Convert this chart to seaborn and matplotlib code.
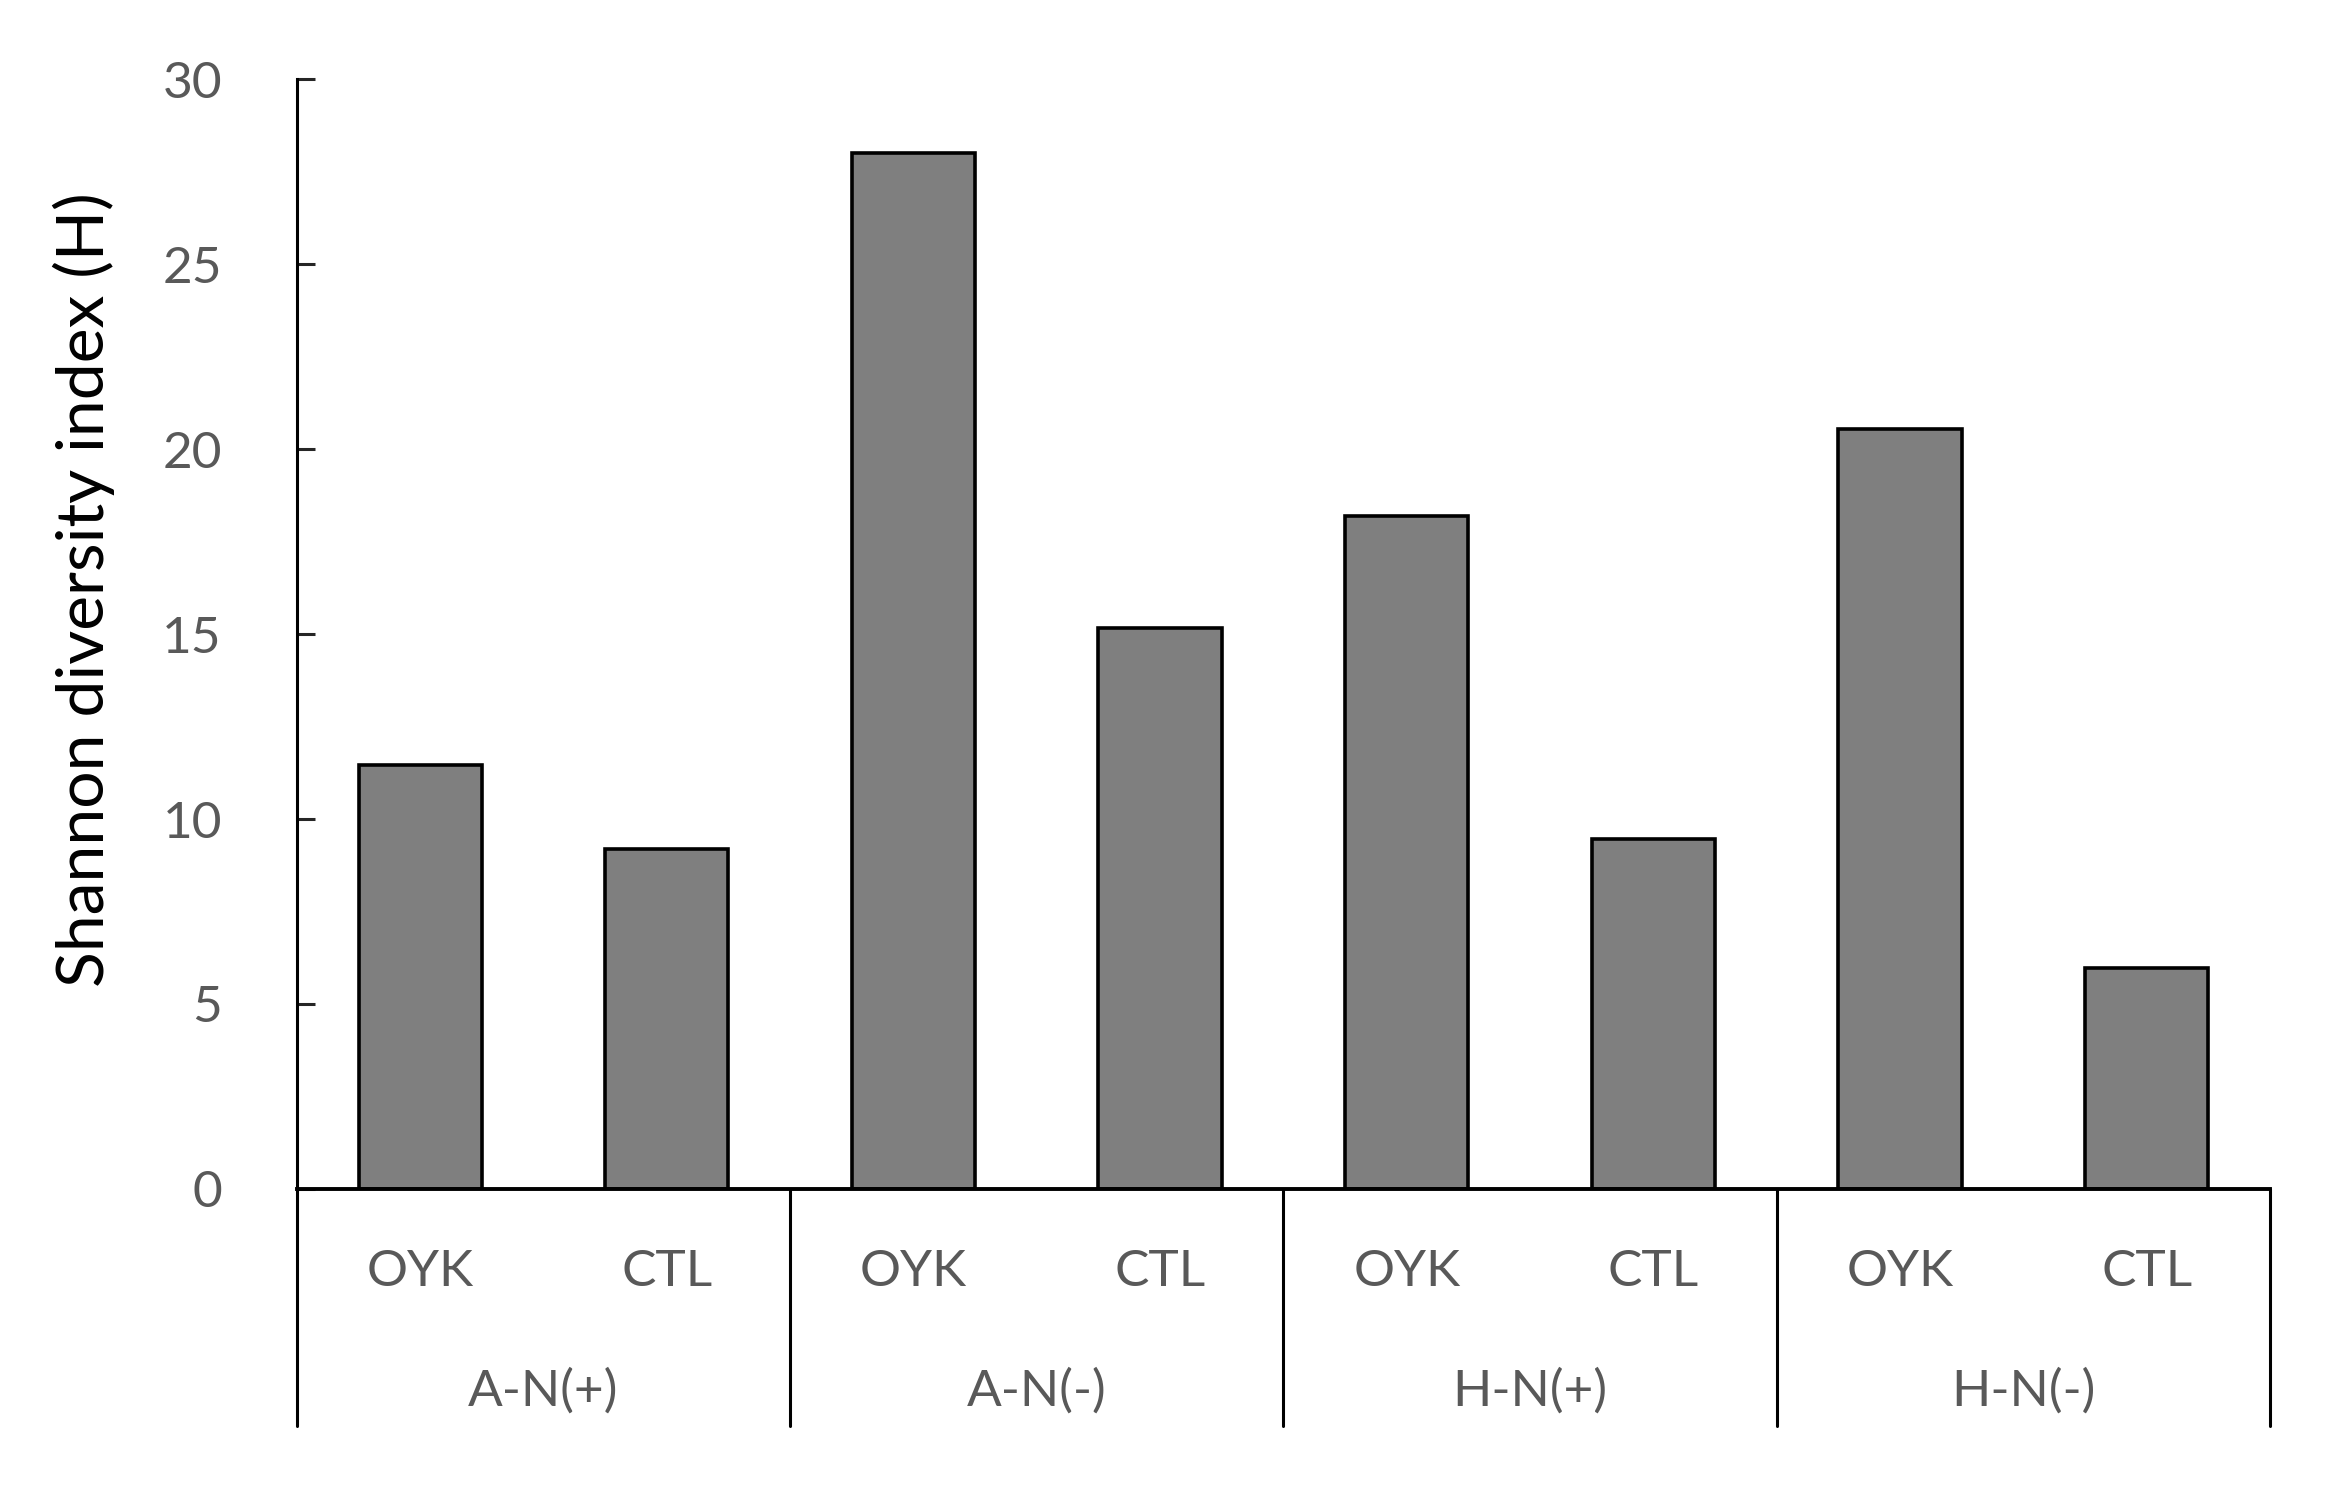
import numpy as np
import pandas as pd
import matplotlib
matplotlib.use("Agg")
import matplotlib.pyplot as plt
import matplotlib.transforms as mtransforms
import seaborn as sns

# data
groups = ["A-N(+)", "A-N(-)", "H-N(+)", "H-N(-)"]
treatments = ["OYK", "CTL"]
oyk_values = [11.45, 28.0, 18.2, 20.55]
ctl_values = [9.2, 15.15, 9.45, 5.97]
y_ticks = [0, 5, 10, 15, 20, 25, 30]

rows = []
for g, o, c in zip(groups, oyk_values, ctl_values):
    rows.append({"group": g, "treatment": "OYK", "value": o})
    rows.append({"group": g, "treatment": "CTL", "value": c})
df = pd.DataFrame(rows)
df["key"] = df["group"] + "|" + df["treatment"]
order = list(df["key"])

sns.set_style("white")
plt.rcParams["font.family"] = ["Lato", "DejaVu Sans"]

fig = plt.figure(figsize=(23.25, 14.92), dpi=100)
ax = fig.add_axes([0.1277, 0.2031, 0.8486, 0.7439])

sns.barplot(
    data=df, x="key", y="value", order=order, color="#7f7f7f",
    saturation=1, width=0.5, edgecolor="black", linewidth=2.6, ax=ax,
)

ax.set_xlim(-0.5, len(order) - 0.5)
ax.set_ylim(0, 30)
ax.set_yticks(y_ticks)
ax.tick_params(axis="y", left=True, direction="in", length=13, width=2.2,
               labelsize=37, labelcolor="#595959", pad=54)
ax.set_xticks([])
ax.set_xlabel("")

for s in ["top", "right"]:
    ax.spines[s].set_visible(False)
ax.spines["left"].set_linewidth(2.2)
ax.spines["bottom"].set_linewidth(2.8)
ax.spines["left"].set_color("black")
ax.spines["bottom"].set_color("black")

ax.set_ylabel("Shannon diversity index (H)", fontsize=47.5, color="black")
ax.yaxis.label.set_verticalalignment("center")
ax.yaxis.set_label_coords(-0.108, 0.54)

# two-level category axis
trans = mtransforms.blended_transform_factory(ax.transData, ax.transAxes)
for i, key in enumerate(order):
    ax.text(i, -0.075, key.split("|")[1], transform=trans, ha="center",
            va="center", fontsize=37, color="#595959")
for j, g in enumerate(groups):
    ax.text(2 * j + 0.5, -0.182, g, transform=trans, ha="center",
            va="center", fontsize=37, color="#595959")
for xs in np.arange(-0.5, len(order), 2):
    ax.plot([xs, xs], [0, -0.2135], transform=trans, color="black",
            linewidth=2.2, clip_on=False)

fig.savefig("out.png", dpi=100, facecolor="white")
